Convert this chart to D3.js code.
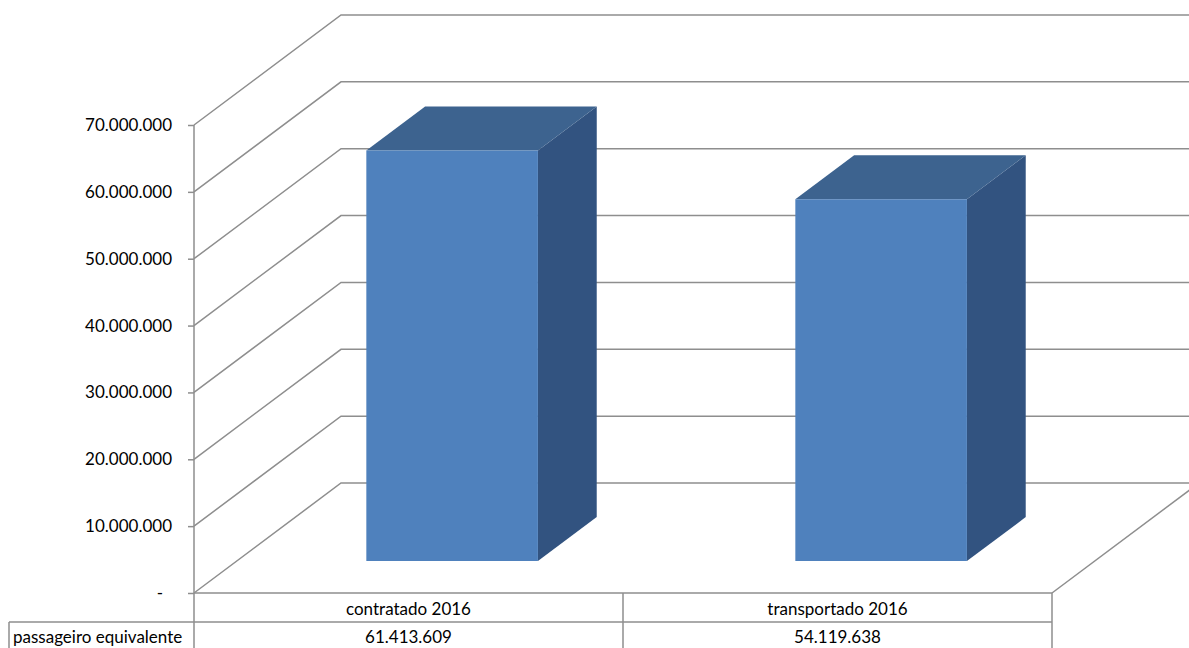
<!DOCTYPE html>
<html>
<head>
<meta charset="utf-8">
<script src="https://cdn.jsdelivr.net/npm/d3@7"></script>
<style>
  body { margin: 0; background: #fff; }
  text { font-family: Lato, "Open Sans", sans-serif; font-size: 17px; fill: #000; }
</style>
</head>
<body>
<div id="chart"></div>
<script>
var categories = ["contratado 2016", "transportado 2016"];
var seriesName = "passageiro equivalente";
var values = [61413609, 54119638];
var yTicks = [0, 10000000, 20000000, 30000000, 40000000, 50000000, 60000000, 70000000];

function init() {
  var w = 1189, h = 648;
  var left = 194, right = 1052, base = 593, top = 125;
  var depthX = 147, depthY = 110;
  var barFront = 0.29, barDepth = 0.4;
  var grid = "#8e8e8e";

  var loc = d3.formatLocale({decimal: ",", thousands: ".", grouping: [3], currency: ["", ""]});
  var fmt = function(v) { return v === 0 ? "-" : loc.format(",")(v); };

  var x = d3.scaleBand().domain(categories).range([left, right]);
  var y = d3.scaleLinear().domain([0, 70000000]).range([base, top]);

  function pt(px, py, d) { return [px + depthX * d, py - depthY * d]; }

  var svg = d3.select("#chart").append("svg")
    .attr("width", w).attr("height", h);

  // back wall lines and side wall diagonals
  var g = svg.append("g").attr("fill", "none").attr("stroke", grid).attr("stroke-width", 1.5);
  yTicks.forEach(function(t) {
    var a = pt(left, y(t), 0), b = pt(left, y(t), 1), c = pt(right, y(t), 1);
    g.append("path").attr("d", d3.line()([a, b, c]));
  });
  // floor right edge
  g.append("path").attr("d", d3.line()([pt(right, base, 0), pt(right, base, 1)]));

  // bars
  var bw = x.bandwidth() * 0.4;
  var bars = svg.selectAll("g.bar").data(values).enter().append("g").attr("class", "bar");
  function corners(d, i) {
    var x0 = x(categories[i]) + (x.bandwidth() - bw) / 2 + 1, x1 = x0 + bw;
    return {
      fbl: pt(x0, y(0), barFront), fbr: pt(x1, y(0), barFront),
      ftl: pt(x0, y(d), barFront), ftr: pt(x1, y(d), barFront),
      btl: pt(x0, y(d), barFront + barDepth), btr: pt(x1, y(d), barFront + barDepth),
      bbr: pt(x1, y(0), barFront + barDepth)
    };
  }
  bars.append("path").attr("fill", "#325380")
    .attr("d", function(d, i) { var c = corners(d, i); return d3.line()([c.fbr, c.ftr, c.btr, c.bbr]) + "Z"; });
  bars.append("path").attr("fill", "#3d638f")
    .attr("d", function(d, i) { var c = corners(d, i); return d3.line()([c.ftl, c.btl, c.btr, c.ftr]) + "Z"; });
  bars.append("path").attr("fill", "#4f81bd")
    .attr("d", function(d, i) { var c = corners(d, i); return d3.line()([c.fbl, c.ftl, c.ftr, c.fbr]) + "Z"; });

  // y axis
  var axis = svg.append("g").attr("transform", "translate(" + left + ",0)")
    .call(d3.axisLeft(y).tickValues(yTicks).tickFormat(fmt).tickSize(6).tickPadding(16));
  axis.select(".domain").remove();
  axis.selectAll("line").attr("stroke", grid).attr("stroke-width", 1.5);
  axis.selectAll("text").attr("fill", "#000").style("font-size", "17px")
    .style("font-family", "Lato, 'Open Sans', sans-serif")
    .attr("dx", function(d) { return d === 0 ? -9 : 0; });

  // data table
  var t = svg.append("g").attr("fill", "none").attr("stroke", grid).attr("stroke-width", 1.5);
  var rowH = 29;
  t.append("line").attr("x1", left).attr("x2", left).attr("y1", top).attr("y2", h);
  t.append("line").attr("x1", left).attr("x2", right).attr("y1", base).attr("y2", base);
  t.append("line").attr("x1", 9).attr("x2", right).attr("y1", base + rowH).attr("y2", base + rowH);
  t.append("line").attr("x1", 9).attr("x2", 9).attr("y1", base + rowH).attr("y2", h);
  categories.forEach(function(c) {
    var xe = x(c) + x.bandwidth();
    t.append("line").attr("x1", xe).attr("x2", xe).attr("y1", base).attr("y2", h);
  });

  svg.selectAll("text.cat").data(categories).enter().append("text").attr("class", "cat")
    .attr("x", function(d) { return x(d) + x.bandwidth() / 2; })
    .attr("y", base + 22).attr("text-anchor", "middle").text(function(d) { return d; });
  svg.selectAll("text.val").data(values).enter().append("text").attr("class", "val")
    .attr("x", function(d, i) { return x(categories[i]) + x.bandwidth() / 2; })
    .attr("y", base + rowH + 21).attr("text-anchor", "middle").text(function(d) { return fmt(d); });
  svg.append("text").attr("x", 13).attr("y", base + rowH + 21).text(seriesName);
}

window.onload = init;
</script>
</body>
</html>
